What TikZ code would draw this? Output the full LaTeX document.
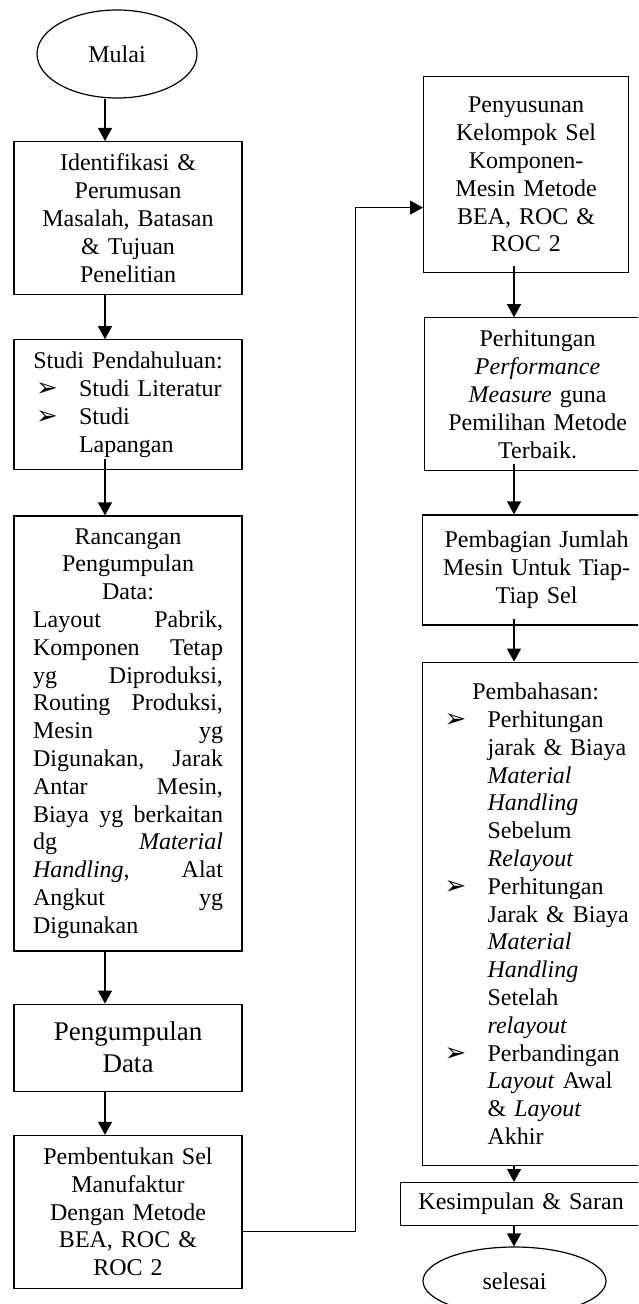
\documentclass[tikz,border=0pt]{standalone}
\usepackage{fontspec}
\setmainfont{Liberation Serif}
\newfontfamily\simbol{DejaVu Sans}
\usepackage{tikz}
\usetikzlibrary{shapes,arrows.meta,positioning,calc}

\newcommand{\ukuran}{\fontsize{12}{13.9}\selectfont}
\newcommand{\butir}{\hspace*{1.5pt}\makebox[21.5pt][l]{\simbol\fontsize{13}{13}\selectfont ➢}}
\newcommand{\lanjut}{\hspace*{23pt}}

\begin{document}
\begin{tikzpicture}[
	kotak/.style={rectangle, draw, line width=0.6pt, text width=95pt, inner xsep=9.5pt, inner ysep=0pt, align=center, font=\ukuran},
	oval/.style={ellipse, draw, line width=0.6pt, inner sep=0pt, font=\ukuran},
	panah/.style={-{Triangle[length=6.5pt,width=7pt]}, line width=0.6pt}]
				\path[use as bounding box, clip] (0,0) rectangle (319pt,-652pt);
				\coordinate (kiri) at (52.5pt,0);
				\coordinate (kanan) at (257pt,0);
				
				\node[oval, minimum width=80pt, minimum height=44pt] (mulai) at (58.5pt,-27pt) {Mulai};
				\node[kotak, minimum height=76.5pt, anchor=north] (identifikasi) at (64pt,-70.5pt) {Identifikasi \&\\ Perumusan\\ Masalah, Batasan\\ \& Tujuan\\ Penelitian};
				\node[kotak, minimum height=65pt, below=22pt of identifikasi] (studi) {Studi Pendahuluan:\\ \butir Studi Literatur\hfill\null\\ \butir Studi\hfill\null\\ \lanjut Lapangan\hfill\null};
				\node[kotak, minimum height=217.5pt, below=22.5pt of studi] (rancangan) {Rancangan\\ Pengumpulan\\ Data:\\
					Layout\hfill Pabrik,\\ Komponen\hfill Tetap\\ yg\hfill Diproduksi,\\ Routing\hfill Produksi,\\ Mesin\hfill yg\\ Digunakan,\hfill Jarak\\ Antar\hfill Mesin,\\ Biaya\hfill yg\hfill berkaitan\\ dg\hfill \textit{Material}\\ \textit{Handling},\hfill Alat\\ Angkut\hfill yg\\ Digunakan\hfill\null};
				\node[kotak, minimum height=43.5pt, below=26pt of rancangan, font=\fontsize{13.5}{16}\selectfont] (kumpul) {Pengumpulan\\ Data};
				\node[kotak, minimum height=76.5pt, below=21.5pt of kumpul] (bentuk) {Pembentukan Sel\\ Manufaktur\\ Dengan Metode\\ BEA, ROC \&\\ ROC 2};
				
				\node[kotak, text width=83.5pt, minimum height=98pt, anchor=north west] (susun) at (211.5pt,-38pt) {Penyusunan\\ Kelompok Sel\\ Komponen-\\ Mesin Metode\\ BEA, ROC \&\\ ROC 2};
				\node[kotak, text width=94pt, minimum height=76.5pt, below=22pt of susun.south west, anchor=north west, xshift=0.5pt] (hitung) {Perhitungan\\ \textit{Performance}\\ \textit{Measure} guna\\ Pemilihan Metode\\ Terbaik.};
				\node[kotak, minimum height=55pt, below=21.5pt of hitung.south west, anchor=north west, xshift=-1pt] (bagi) {Pembagian Jumlah\\ Mesin Untuk Tiap-\\ Tiap Sel};
				\node[kotak, text width=94pt, minimum height=251.5pt, below=18pt of bagi.south west, anchor=north west] (bahas) {Pembahasan:\\
					\butir Perhitungan\hfill\null\\ \lanjut jarak \& Biaya\hfill\null\\ \lanjut\textit{Material}\hfill\null\\ \lanjut\textit{Handling}\hfill\null\\ \lanjut Sebelum\hfill\null\\ \lanjut\textit{Relayout}\hfill\null\\
					\butir Perhitungan\hfill\null\\ \lanjut Jarak \& Biaya\hfill\null\\ \lanjut\textit{Material}\hfill\null\\ \lanjut\textit{Handling}\hfill\null\\ \lanjut Setelah\hfill\null\\ \lanjut\textit{relayout}\hfill\null\\
					\butir Perbandingan\hfill\null\\ \lanjut\textit{Layout} Awal\hfill\null\\ \lanjut\& \textit{Layout}\hfill\null\\ \lanjut Akhir\hfill\null};
				\node[kotak, text width=110pt, inner xsep=5.25pt, minimum height=21.5pt, anchor=north west] (simpul) at (200pt,-591pt) {Kesimpulan \& Saran};
				\node[oval, minimum width=91.5pt, minimum height=34pt] (selesai) at (257.25pt,-640.5pt) {selesai};
				
				\draw[panah] (mulai.south -| kiri) -- (identifikasi.north -| kiri);
				\draw[panah] (identifikasi.south -| kiri) -- (studi.north -| kiri);
				\draw[panah] ($(studi.south -| kiri)+(0,5.5pt)$) -- (rancangan.north -| kiri);
				\draw[panah] (rancangan.south -| kiri) -- (kumpul.north -| kiri);
				\draw[panah] (kumpul.south -| kiri) -- (bentuk.north -| kiri);
				\draw[panah] ([yshift=-9.75pt]bentuk.east) -- ++(56.5pt,0) |- ([yshift=-16.5pt]susun.west);
				\draw[panah] ($(susun.south -| kanan)+(0,3.5pt)$) -- (hitung.north -| kanan);
				\draw[panah] ($(hitung.south -| kanan)+(0,3.5pt)$) -- (bagi.north -| kanan);
				\draw[panah] ($(bagi.south -| kanan)+(0,3.5pt)$) -- (bahas.north -| kanan);
				\draw[panah] (bahas.south -| kanan) -- (simpul.north -| kanan);
				\draw[panah] (simpul.south -| kanan) -- (selesai.north -| kanan);
			\end{tikzpicture}
\end{document}
